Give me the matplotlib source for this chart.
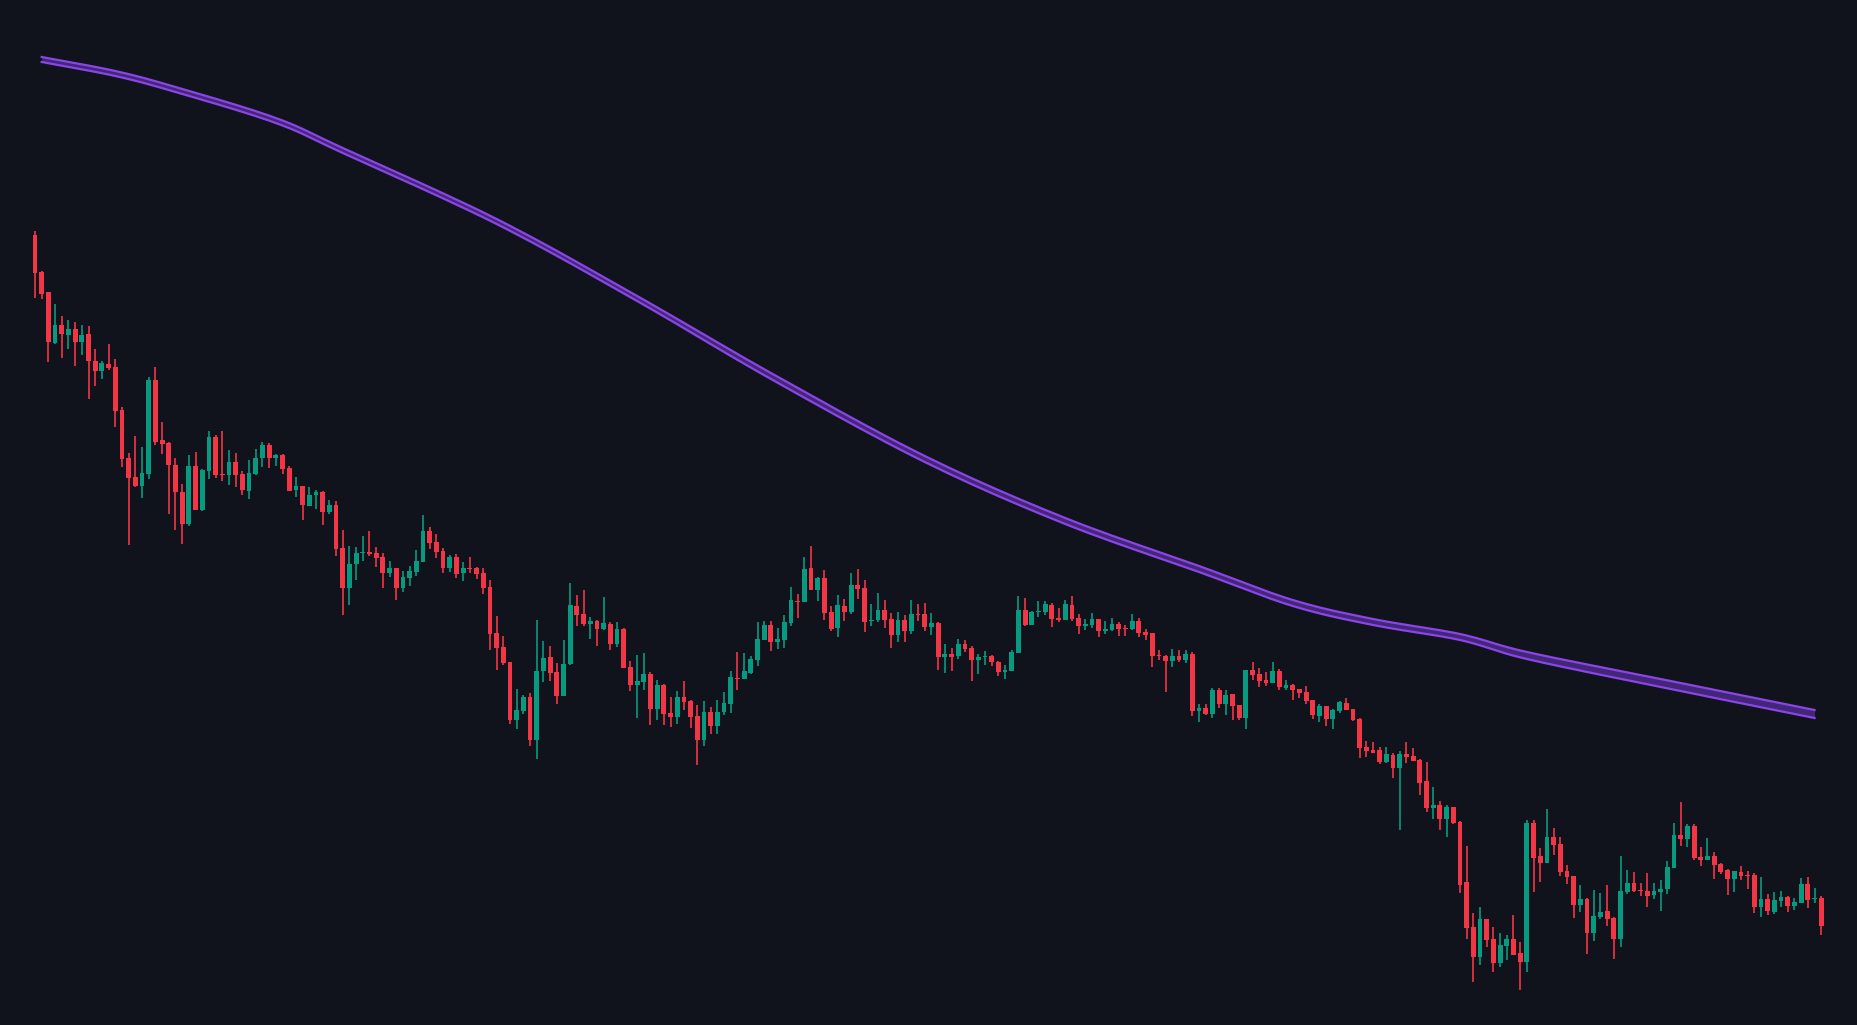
import matplotlib
matplotlib.use("Agg")
import matplotlib.pyplot as plt
import numpy as np

# Candle data (chart units, inverted axis: smaller = higher price)
opens = [235,272,292,343,325,335,329,342,334,361,371,364,367,410,458,477,486,474,380,440,443,465,492,524,466,510,471,437,474,475,462,474,491,474,458,445,458,455,468,490,486,506,495,492,512,
505,548,588,564,553,552,553,557,573,568,588,578,572,562,531,542,551,568,557,573,568,568,573,587,633,647,662,720,711,697,740,671,657,672,696,664,606,614,624,621,629,624,644,629,
667,685,682,674,709,685,713,717,697,701,716,740,712,726,712,704,678,679,673,660,640,625,642,640,623,601,602,568,590,578,612,628,606,612,585,588,621,620,610,619,635,620,631,614,614,
627,623,657,654,656,644,648,660,657,656,662,672,671,653,610,625,612,612,605,618,620,605,618,626,625,619,631,630,624,628,629,621,632,633,655,656,661,656,660,654,711,708,714,690,704,
694,705,718,670,674,680,683,671,688,685,689,692,700,716,706,719,711,703,709,719,747,750,750,762,755,768,754,756,760,781,808,805,819,807,
822,882,927,957,919,939,963,946,939,953,962,823,856,863,837,844,871,876,905,899,933,917,911,918,939,892,883,890,891,895,892,889,868,835,839,826,857,860,856,864,870,879,872,875,875,907,899,912,901,897,906,903,884,899,898]
closes = [273,294,342,325,334,329,342,335,361,371,363,368,411,459,478,486,473,380,442,444,465,492,524,466,510,470,437,475,475,462,475,490,473,458,445,458,455,469,491,486,505,495,492,512,505,
549,588,564,553,552,554,558,573,568,588,577,571,561,531,543,552,568,557,574,568,568,574,588,634,648,663,720,710,697,740,671,658,673,696,664,605,615,624,621,629,623,644,629,668,
685,681,674,709,685,714,717,697,702,717,740,712,726,712,703,677,679,671,659,639,625,642,639,622,600,602,569,590,578,613,629,605,612,585,589,622,620,610,620,635,620,631,614,614,627,
623,657,654,657,644,649,660,657,656,662,672,670,652,610,625,612,611,604,619,620,604,619,626,624,619,631,629,624,629,628,621,633,635,656,656,661,656,660,654,711,708,714,690,704,695,
706,718,670,675,681,683,671,687,685,690,693,701,715,706,719,710,702,710,720,748,751,753,762,754,768,754,757,761,783,808,805,819,807,823,
885,928,957,919,940,963,945,939,955,962,823,858,863,837,845,872,877,905,899,933,916,912,919,939,891,883,891,891,896,891,889,867,835,839,826,858,860,856,865,872,879,871,876,875,907,899,911,900,897,906,902,884,900,898,926]
highs = [231,271,292,304,316,320,322,325,326,349,361,344,359,407,453,436,447,377,367,422,442,458,484,455,452,469,431,435,431,450,453,471,460,449,442,443,454,454,466,477,486,487,490,491,500,
501,530,546,547,536,531,547,553,561,568,571,566,550,515,527,534,548,555,554,562,557,567,568,580,616,636,662,689,695,693,620,641,646,663,640,583,595,590,617,620,597,622,622,628,
661,655,653,672,680,684,697,691,681,700,705,701,707,700,692,671,652,653,656,622,621,621,628,615,587,594,557,546,577,570,606,595,599,573,569,580,604,593,600,613,612,615,600,604,603,
613,622,644,648,639,640,646,654,651,655,661,665,650,596,598,611,601,601,603,608,600,596,614,619,613,619,621,618,622,625,614,618,629,633,650,655,649,650,650,652,704,704,688,688,690,
694,705,670,662,668,672,662,669,680,684,689,686,700,704,706,709,701,698,709,718,741,742,747,747,753,751,742,748,759,762,787,801,805,807,
821,846,913,907,919,927,933,935,915,942,820,820,848,809,828,837,865,876,885,898,890,893,885,917,856,870,872,883,873,883,880,861,823,802,824,824,847,838,852,863,869,871,866,871,873,877,894,892,891,896,898,878,877,888,896]
lows = [298,299,362,344,358,349,366,355,399,386,379,370,427,467,545,487,498,479,445,454,514,530,544,526,510,511,479,478,481,485,487,495,499,475,467,468,466,474,491,497,520,506,509,525,514,
556,615,605,580,561,556,567,588,577,600,592,586,576,562,549,558,573,572,578,581,573,579,594,650,670,665,724,729,714,746,759,682,681,704,696,665,626,626,639,646,630,650,647,668,
691,718,690,725,720,725,727,724,710,728,765,746,734,734,715,713,690,679,674,666,640,651,649,648,626,618,602,590,601,620,631,637,621,614,599,632,626,622,628,648,642,642,634,621,631,
635,670,673,671,659,652,681,674,665,666,676,679,671,653,626,625,617,615,627,622,620,621,634,630,628,637,634,631,636,636,630,637,640,667,660,692,667,662,663,716,722,715,718,708,715,
720,720,729,680,687,686,683,690,690,700,698,704,719,722,726,729,713,710,721,758,757,753,764,763,778,830,763,761,795,812,819,830,837,824,
893,939,982,965,947,972,967,960,955,990,972,892,882,863,855,876,884,918,912,954,941,919,926,959,947,894,892,896,907,899,911,894,868,846,847,860,866,860,879,874,895,892,880,889,913,917,915,914,907,912,910,903,908,903,935]

# Moving-average band, read at candle indices
ma_idx = [1, 12, 21, 36, 46, 69, 90, 110, 133, 154, 174, 188, 200, 213, 223, 243, 266]
ma_upper = [57, 71, 87, 118, 148, 219, 296, 373, 456, 518, 566, 600, 619, 634, 652, 679, 710]
ma_lower = [62, 76, 92, 123, 153, 224, 301, 379, 462, 524, 572, 606, 625, 640, 659, 687, 718]

BG = "#10131c"
UP = "#089981"
DOWN = "#f23645"


def smooth(xs, ys, k=12):
    # Catmull-Rom curve through the read points (drawing only)
    xs = np.asarray(xs, float); ys = np.asarray(ys, float)
    P = np.column_stack([xs, ys])
    P = np.vstack([2 * P[0] - P[1], P, 2 * P[-1] - P[-2]])
    out = []
    t = np.linspace(0, 1, k, endpoint=False)[:, None]
    for i in range(1, len(P) - 2):
        p0, p1, p2, p3 = P[i - 1], P[i], P[i + 1], P[i + 2]
        seg = 0.5 * ((2 * p1) + (-p0 + p2) * t + (2 * p0 - 5 * p1 + 4 * p2 - p3) * t ** 2
                     + (-p0 + 3 * p1 - 3 * p2 + p3) * t ** 3)
        out.append(seg)
    out.append(P[-2][None, :])
    out = np.vstack(out)
    return out[:, 0], out[:, 1]


fig = plt.figure(figsize=(18.58, 10.25), dpi=100, facecolor=BG)
ax = fig.add_axes([0, 0, 1, 1])
ax.set_facecolor(BG)

n = len(closes)
x = np.arange(n)
o = np.array(opens, float); c = np.array(closes, float)
h = np.array(highs, float); l = np.array(lows, float)
up = c < o  # smaller value = higher price on this inverted scale
cols = np.where(up, UP, DOWN)

ax.vlines(x, h, l, colors=cols, linewidth=1.2, zorder=2)
bottom = np.minimum(o, c)
height = np.maximum(np.abs(o - c), 1.2)
ax.bar(x, height, bottom=bottom, width=0.72, color=cols, edgecolor=cols, linewidth=0, zorder=3)

ux, uy = smooth(ma_idx, ma_upper)
lx, ly = smooth(ma_idx, ma_lower)
ax.fill_between(ux, uy, np.interp(ux, lx, ly), color="#5b2fa0", alpha=0.7, linewidth=0, zorder=1)
ax.plot(ux, uy, color="#8a45e6", linewidth=1.6, zorder=1)
ax.plot(lx, ly, color="#8a45e6", linewidth=1.6, zorder=1)

ax.set_xlim(-35 / 6.69, (1858 - 35) / 6.69)
ax.set_ylim(1025, 0)
ax.axis("off")

fig.savefig("out.png", dpi=100, facecolor=BG)
